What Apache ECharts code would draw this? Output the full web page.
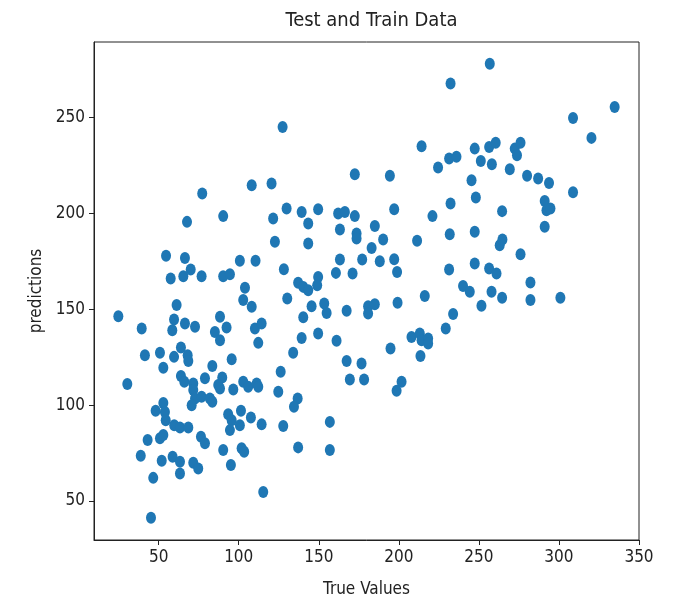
<!DOCTYPE html>
<html>
<head>
<meta charset="utf-8">
<script src="https://cdn.jsdelivr.net/npm/echarts@6/dist/echarts.min.js"></script>
<style>
html,body{margin:0;padding:0;background:#fff;}
#chart{width:681px;height:606px;}
</style>
</head>
<body>
<div id="chart"></div>
<script>
var titleText = "Test and Train Data";
var xAxisName = "True Values";
var yAxisName = "predictions";
var xTicks = [50, 100, 150, 200, 250, 300, 350];
var yTicks = [50, 100, 150, 200, 250];

var trueValues = [
  77.2,108.1,120.5,67.7,90.3,54.6,66.4,70.0,65.4,57.5,76.8,90.3,94.5,100.7,110.5,103.9,102.8,108.1,61.2,24.8,
  39.4,59.6,58.5,66.4,72.7,88.3,92.4,85.1,88.3,110.1,114.3,112.2,
  41.4,50.8,59.6,63.9,68.1,68.5,52.9,95.6,83.5,30.4,63.9,66.0,71.6,71.6,78.9,89.7,87.2,88.3,96.6,102.8,105.9,111.2,112.2,
  72.7,70.6,76.8,82.0,83.5,52.9,48.1,53.9,54.4,59.7,63.3,68.5,93.4,95.6,101.4,100.7,94.5,107.6,114.3,
  43.1,50.8,52.9,76.4,78.9,90.3,101.8,103.4,38.8,51.9,58.7,63.3,63.3,71.6,74.7,95.1,46.6,115.3,45.2,
  127.4,214.2,224.5,172.5,194.4,129.9,139.3,149.6,162.1,166.3,172.5,197.1,121.5,143.4,163.2,173.6,173.6,185.0,190.2,211.4,221.0,
  122.6,143.4,183.0,163.2,177.1,188.1,197.1,198.9,128.2,160.7,171.1,137.1,140.3,143.4,149.6,149.0,130.3,
  145.5,153.4,154.9,167.4,180.8,185.0,180.8,199.2,140.3,139.3,149.6,161.1,134.0,126.2,124.7,136.8,134.5,127.8,156.9,137.1,156.9,
  167.4,176.7,169.4,178.3,194.8,201.7,198.6,207.9,213.1,214.2,213.5,
  256.8,232.3,334.8,308.8,320.3,231.4,236.0,247.4,256.4,260.5,272.4,276.0,273.8,251.2,258.1,269.3,280.1,287.0,293.8,308.8,
  245.4,248.1,232.3,264.5,291.1,292.2,294.7,291.1,
  231.8,247.4,263.0,264.7,276.0,231.4,247.4,256.4,261.0,282.2,240.1,244.3,257.9,264.5,282.2,300.9,216.2,251.6,233.9,229.3,218.3,218.3
];
var predictions = [
  210.4,214.7,215.6,195.6,198.6,177.9,176.8,170.8,167.3,166.1,167.3,167.3,168.3,175.3,175.3,161.2,154.8,151.3,152.2,146.4,
  140.0,144.7,139.1,142.6,140.9,146.1,140.5,138.2,133.9,140.0,142.6,132.5,
  126.1,127.3,125.2,130.1,126.1,123.1,119.5,124.0,120.4,111.0,115.2,112.2,111.3,107.9,114.0,114.5,110.5,108.7,108.2,112.2,109.6,111.3,109.6,
  103.5,100.0,104.4,103.5,101.8,101.2,97.1,96.5,92.2,89.6,88.4,88.4,95.3,92.2,97.1,89.6,87.0,93.6,90.0,
  81.8,82.7,84.4,83.5,80.1,76.6,77.5,75.7,73.6,71.0,73.1,70.5,64.4,70.0,67.0,68.8,62.1,54.7,41.3,
  245.1,235.0,223.9,220.4,219.6,202.6,200.8,202.2,200.0,200.8,198.6,202.2,197.4,194.8,191.6,189.5,186.9,193.5,186.4,185.7,198.6,
  185.2,184.3,182.0,176.0,176.0,175.1,176.1,169.5,170.9,169.0,168.7,163.8,161.7,160.0,166.9,162.6,155.7,
  151.6,153.0,148.1,149.2,151.6,152.7,147.8,153.4,145.8,135.1,137.4,133.6,127.3,117.4,107.0,103.5,99.2,89.1,91.3,78.0,76.6,
  123.1,121.8,113.4,113.4,129.6,112.2,107.5,135.6,137.4,133.9,125.7,
  278.1,267.7,255.5,249.8,239.4,228.6,229.5,233.8,234.7,236.8,233.8,236.8,230.4,227.4,225.7,223.1,219.6,218.2,215.9,211.1,
  217.3,208.3,205.2,201.2,206.5,201.7,202.6,193.0,
  189.2,190.4,183.4,186.4,178.7,170.8,173.9,171.3,168.7,164.0,162.1,159.1,159.1,156.0,154.8,156.0,156.9,151.8,147.5,140.0,134.8,132.2
];

var points = trueValues.map(function (v, i) { return [v, predictions[i]]; });

var FONT = '"DejaVu Sans Condensed", "DejaVu Sans", sans-serif';
var TXT = '#222';
var chart = echarts.init(document.getElementById('chart'), null, {renderer: 'canvas'});
chart.setOption({
  backgroundColor: '#fff',
  animation: false,
  title: {
    text: titleText,
    left: 366.5, top: 6, textAlign: 'center',
    textStyle: {fontFamily: FONT, fontSize: 20, fontWeight: 'normal', color: TXT}
  },
  grid: {
    left: 94, right: 42, top: 42, bottom: 66,
    outerBoundsMode: 'none',
    show: true, borderColor: '#222', borderWidth: 1, backgroundColor: 'transparent'
  },
  xAxis: {
    type: 'value', min: 9.6, max: 350,
    name: xAxisName, nameLocation: 'middle', nameGap: 41,
    nameTextStyle: {fontFamily: FONT, fontSize: 17, color: TXT},
    axisLine: {show: true, lineStyle: {color: '#222', width: 1}},
    axisTick: {show: true, length: 5, customValues: xTicks, lineStyle: {color: '#222'}},
    axisLabel: {customValues: xTicks, margin: 9, fontFamily: FONT, fontSize: 17, color: TXT},
    splitLine: {show: false}
  },
  yAxis: {
    type: 'value', min: 29.7, max: 289.4,
    name: yAxisName, nameLocation: 'middle', nameGap: 46, nameRotate: 90,
    nameTextStyle: {fontFamily: FONT, fontSize: 17, color: TXT},
    axisLine: {show: true, lineStyle: {color: '#222', width: 1}},
    axisTick: {show: true, length: 5, customValues: yTicks, lineStyle: {color: '#222'}},
    axisLabel: {customValues: yTicks, margin: 9, fontFamily: FONT, fontSize: 17, color: TXT},
    splitLine: {show: false}
  },
  series: [{
    type: 'scatter',
    data: points,
    symbol: 'circle',
    symbolSize: [10, 12],
    itemStyle: {color: '#1f77b4', opacity: 1}
  }]
});
</script>
</body>
</html>
